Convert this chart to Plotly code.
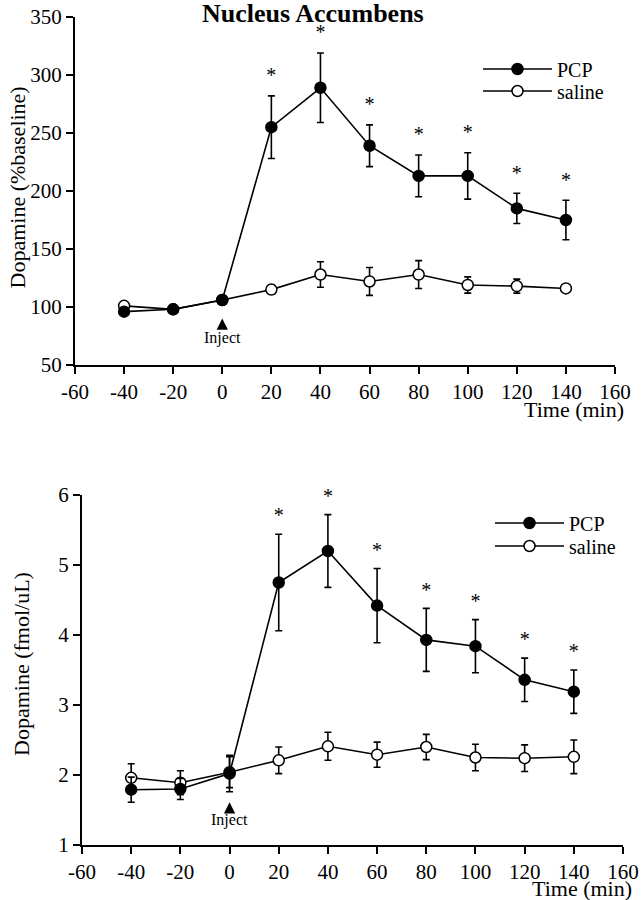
import plotly.graph_objects as go

# ---------------- data ----------------
time_min = [-40, -20, 0, 20, 40, 60, 80, 100, 120, 140]

pct_pcp = [96, 98, 106, 255, 289, 239, 213, 213, 185, 175]
pct_pcp_err = [2, 2, 3, 27, 30, 18, 18, 20, 13, 17]
pct_sal = [101, 98, 106, 115, 128, 122, 128, 119, 118, 116]
pct_sal_err = [2, 2, 3, 4, 11, 12, 12, 7, 6, 2]

fmol_pcp = [1.79, 1.80, 2.02, 4.75, 5.20, 4.42, 3.93, 3.84, 3.36, 3.19]
fmol_pcp_err = [0.18, 0.15, 0.26, 0.69, 0.52, 0.53, 0.45, 0.38, 0.31, 0.31]
fmol_sal = [1.96, 1.89, 2.04, 2.21, 2.41, 2.29, 2.40, 2.25, 2.24, 2.26]
fmol_sal_err = [0.20, 0.17, 0.22, 0.19, 0.20, 0.18, 0.18, 0.19, 0.19, 0.24]

signif_times = [20, 40, 60, 80, 100, 120, 140]

x_ticks = [-60, -40, -20, 0, 20, 40, 60, 80, 100, 120, 140, 160]
x_tick_labels = ["-60", "-40", "-20", "0", "20", "40", "60", "80", "100",
                 "120", "140", "160"]
pct_ticks = [50, 100, 150, 200, 250, 300, 350]
pct_tick_labels = ["50", "100", "150", "200", "250", "300", "350"]
fmol_ticks = [1, 2, 3, 4, 5, 6]
fmol_tick_labels = ["1", "2", "3", "4", "5", "6"]

FONT = "Liberation Serif, Times New Roman, serif"
W, H = 643, 900

fig = go.Figure()


def add_series(y, err, xa, ya, name, filled, legend):
    fig.add_trace(go.Scatter(
        x=time_min, y=y, xaxis=xa, yaxis=ya, name=name,
        mode="lines+markers", legend=legend, showlegend=True,
        line=dict(color="black", width=1.6),
        marker=dict(size=11, color="black" if filled else "white",
                    line=dict(color="black", width=1.5), symbol="circle"),
        error_y=dict(type="data", array=err, visible=True, color="black",
                     thickness=1.6, width=3.5),
        cliponaxis=False,
    ))


# saline first so PCP draws over it; one legend per entry for exact spacing
add_series(pct_sal, pct_sal_err, "x", "y", "saline", False, "legend2")
add_series(pct_pcp, pct_pcp_err, "x", "y", "PCP", True, "legend")
add_series(fmol_sal, fmol_sal_err, "x2", "y2", "saline", False, "legend4")
add_series(fmol_pcp, fmol_pcp_err, "x2", "y2", "PCP", True, "legend3")

# significance asterisks above PCP error bars
idx = [time_min.index(t) for t in signif_times]
fig.add_trace(go.Scatter(
    x=signif_times, y=[pct_pcp[i] + pct_pcp_err[i] + 16 for i in idx],
    xaxis="x", yaxis="y", mode="text", text=["*"] * len(idx),
    textfont=dict(family=FONT, size=20, color="black"), showlegend=False,
    cliponaxis=False, textposition="middle center"))
fig.add_trace(go.Scatter(
    x=signif_times, y=[fmol_pcp[i] + fmol_pcp_err[i] + 0.24 for i in idx],
    xaxis="x2", yaxis="y2", mode="text", text=["*"] * len(idx),
    textfont=dict(family=FONT, size=20, color="black"), showlegend=False,
    cliponaxis=False, textposition="middle center"))

axis_common = dict(
    showline=True, linecolor="black", linewidth=2, ticks="outside",
    ticklen=7, tickwidth=2, tickcolor="black", showgrid=False, zeroline=False,
    tickfont=dict(family=FONT, size=21, color="black"), mirror=False,
    automargin=False, tickmode="array",
)


def leg(x, y):
    return dict(x=x / W, y=1 - y / H, xanchor="left", yanchor="middle",
                itemwidth=69, bgcolor="rgba(0,0,0,0)", borderwidth=0,
                font=dict(family=FONT, size=20, color="black"))


fig.update_layout(
    width=W, height=H, paper_bgcolor="white", plot_bgcolor="white",
    margin=dict(l=0, r=0, t=0, b=0, autoexpand=False), showlegend=True,
    xaxis=dict(domain=[75 / W, 615 / W], range=[-60, 160], tickvals=x_ticks,
               ticktext=x_tick_labels, anchor="y", **axis_common),
    yaxis=dict(domain=[1 - 365 / H, 1 - 17 / H], range=[50, 350],
               tickvals=pct_ticks, ticktext=pct_tick_labels, anchor="x",
               **axis_common),
    xaxis2=dict(domain=[82 / W, 623 / W], range=[-60, 160], tickvals=x_ticks,
                ticktext=x_tick_labels, anchor="y2", **axis_common),
    yaxis2=dict(domain=[1 - 845 / H, 1 - 495 / H], range=[1, 6],
                tickvals=fmol_ticks, ticktext=fmol_tick_labels, anchor="x2",
                **axis_common),
    legend=leg(478, 69),
    legend2=leg(478, 91),
    legend3=leg(490, 523),
    legend4=leg(490, 546),
    font=dict(family=FONT, color="black"),
)

ann = []
ann.append(dict(text="<b>Nucleus Accumbens</b>", x=313 / W, y=1 - 14 / H,
                xref="paper", yref="paper", showarrow=False, xanchor="center",
                yanchor="middle",
                font=dict(family=FONT, size=26, color="black")))
ann.append(dict(text="Dopamine (%baseline)", x=16.5 / W, y=1 - 188 / H,
                xref="paper", yref="paper", showarrow=False, textangle=-90,
                xanchor="center", yanchor="middle",
                font=dict(family=FONT, size=22, color="black")))
ann.append(dict(text="Dopamine (fmol/uL)", x=21 / W, y=1 - 664 / H,
                xref="paper", yref="paper", showarrow=False, textangle=-90,
                xanchor="center", yanchor="middle",
                font=dict(family=FONT, size=22, color="black")))
ann.append(dict(text="Time (min)", x=626 / W, y=1 - 409 / H, xanchor="right",
                yanchor="middle", xref="paper", yref="paper", showarrow=False,
                font=dict(family=FONT, size=22, color="black")))
ann.append(dict(text="Time (min)", x=634 / W, y=1 - 888 / H, xanchor="right",
                yanchor="middle", xref="paper", yref="paper", showarrow=False,
                font=dict(family=FONT, size=22, color="black")))
# Inject markers
for xr, yr, tip, label_y in [("x", "y", 90, 73), ("x2", "y2", 1.61, 1.36)]:
    ann.append(dict(text="", x=0, y=tip, xref=xr, yref=yr, showarrow=True,
                    ax=0, ay=8, arrowhead=2, arrowsize=1.5, arrowwidth=1.5,
                    arrowcolor="black", standoff=0))
    ann.append(dict(text="Inject", x=0, y=label_y, xref=xr, yref=yr,
                    showarrow=False,
                    font=dict(family=FONT, size=16, color="black")))
fig.update_layout(annotations=ann)

fig.write_html("out.html", config={"displayModeBar": False},
               post_script="document.body.style.margin='0';"
                           "document.body.style.overflow='hidden';")
